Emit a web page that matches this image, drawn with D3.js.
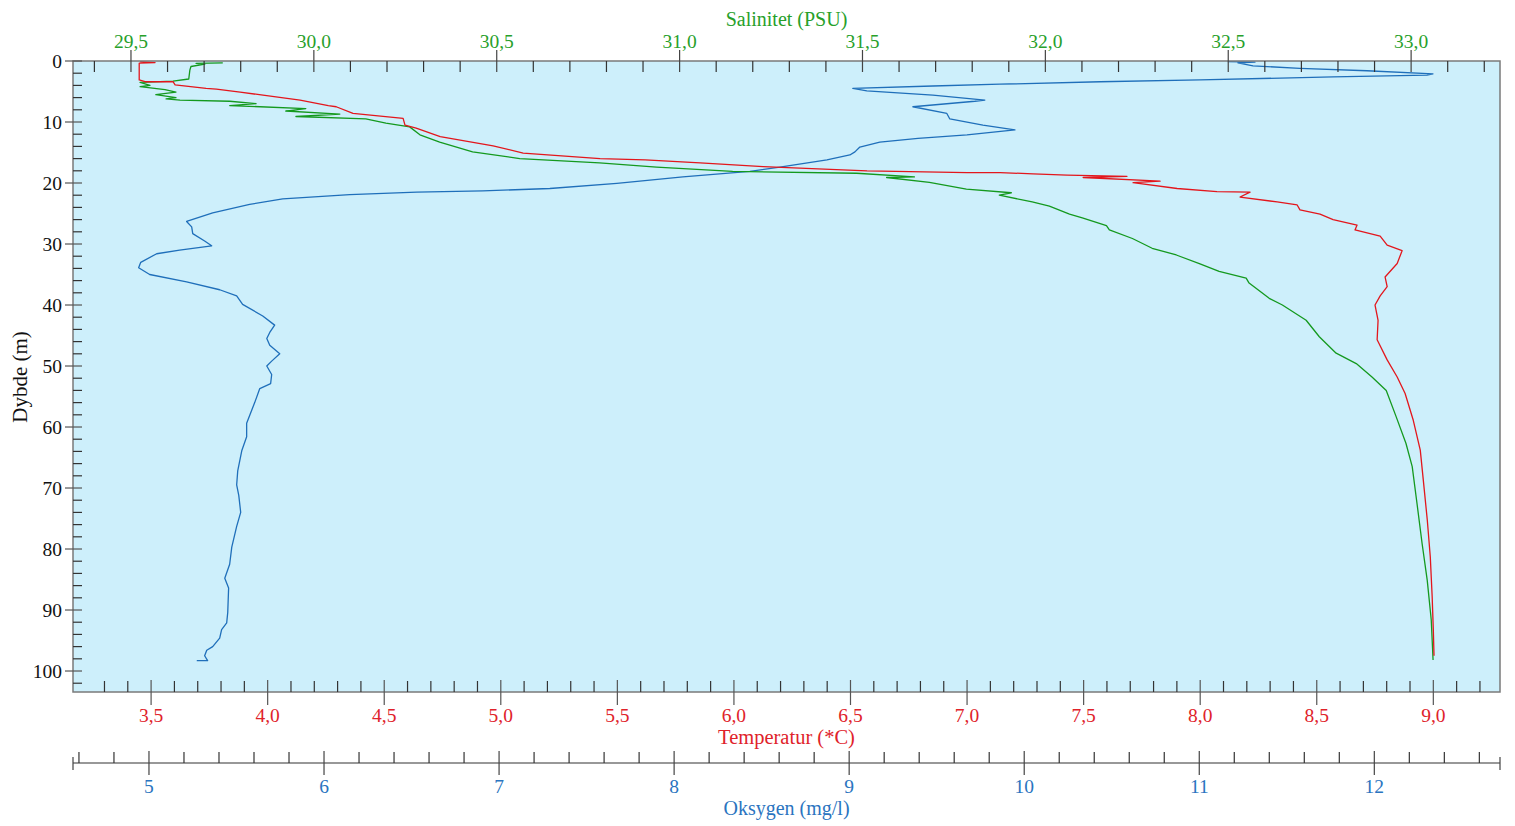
<!DOCTYPE html>
<html>
<head>
<meta charset="utf-8">
<script src="https://cdn.jsdelivr.net/npm/d3@7"></script>
<style>
  body { margin: 0; background: #fff; }
  svg text { font-family: "Liberation Serif", "Times New Roman", serif; }
</style>
</head>
<body>
<div class="chart"></div>
<script>
// ** data: [dybde (m), verdi] */
const temperatur = [
  [0.1, 3.453], [0.25, 3.517], [0.35, 3.449], [3.1, 3.449], [3.4, 3.474], [3.4, 3.594],
  [3.9, 3.603], [4.5, 3.736], [4.6, 3.78], [5.1, 3.882], [5.6, 3.980], [6.4, 4.139],
  [7.3, 4.26], [7.5, 4.294], [8.6, 4.366], [9.4, 4.581], [10.5, 4.589], [11, 4.637],
  [12.4, 4.740], [13.9, 4.967], [15.1, 5.096], [16, 5.426], [16.2, 5.619], [16.7, 5.855],
  [17.3, 6.125], [18, 6.571], [18.3, 7.0], [18.3, 7.142], [18.5, 7.283], [18.7, 7.429],
  [18.9, 7.686], [19.1, 7.498], [19.7, 7.828], [19.95, 7.712], [20.9, 7.901], [21.4, 8.072],
  [21.5, 8.214], [22.3, 8.171], [23.1, 8.330], [23.6, 8.416], [24.4, 8.428], [25.1, 8.514],
  [26, 8.570], [26.9, 8.673], [27.7, 8.664], [28.7, 8.772], [30.2, 8.802], [31.1, 8.866],
  [33.2, 8.845], [35.4, 8.793], [37, 8.802], [38.5, 8.772], [40, 8.750], [42.5, 8.763],
  [45.7, 8.759], [49, 8.802], [51.8, 8.845], [54.5, 8.879], [58.9, 8.914], [63.8, 8.944],
  [68.7, 8.957], [75.2, 8.974], [81.3, 8.987], [87.8, 8.995], [93.3, 9.0], [97.5, 9.003]
];

const salinitet = [
  [0.3, 29.751], [0.4, 29.678], [0.5, 29.702], [0.9, 29.664], [1.5, 29.661], [2.95, 29.658],
  [3.3, 29.615], [3.5, 29.525], [4.0, 29.552], [4.2, 29.525], [4.7, 29.593], [5.1, 29.623],
  [5.5, 29.568], [6.0, 29.623], [6.2, 29.596], [6.4, 29.634], [6.6, 29.770], [7.0, 29.842],
  [7.3, 29.770], [7.8, 29.978], [8.2, 29.923], [8.7, 30.071], [9.1, 29.951], [9.5, 30.142],
  [10.2, 30.197], [10.8, 30.262], [12.1, 30.290], [13.3, 30.344], [14.9, 30.434], [16, 30.563],
  [16.7, 30.781], [17.4, 30.937], [18.1, 31.145], [18.4, 31.484], [19.0, 31.642], [19.1, 31.566],
  [19.9, 31.683], [21, 31.784], [21.6, 31.907], [22.0, 31.874], [23.1, 31.964], [23.8, 32.011],
  [25.1, 32.066], [25.7, 32.101], [27, 32.167], [27.7, 32.175], [29.1, 32.238], [30.7, 32.292],
  [31.8, 32.358], [33.2, 32.421], [34.5, 32.475], [35.6, 32.549], [36.4, 32.557], [38.9, 32.612],
  [40, 32.648], [42.5, 32.713], [45.2, 32.749], [47.9, 32.795], [49.6, 32.850], [51.8, 32.893],
  [54, 32.932], [58.3, 32.959], [62.7, 32.986], [66.5, 33.003], [72.5, 33.016], [79.1, 33.030],
  [85.1, 33.044], [91.6, 33.055], [98.2, 33.060]
];

const oksygen = [
  [0.1, 11.163], [0.2, 11.318], [0.3, 11.221], [0.8, 11.307], [1.2, 11.575], [1.6, 11.958],
  [2.1, 12.335], [2.3, 12.301], [2.6, 11.764], [3.1, 11.004], [3.4, 10.433], [3.8, 9.861],
  [4.1, 9.478], [4.5, 9.021], [4.9, 9.101], [5.6, 9.478], [6.4, 9.775], [6.6, 9.718],
  [7.5, 9.364], [8.6, 9.558], [9.5, 9.575], [10.5, 9.764], [11.3, 9.947], [12.1, 9.673],
  [12.7, 9.393], [13.3, 9.175], [14.1, 9.061], [14.9, 9.033], [15.4, 9.004], [16.2, 8.873],
  [17.4, 8.604], [18.1, 8.433], [19, 8.050], [20.05, 7.673], [20.9, 7.290], [21.3, 6.907],
  [21.5, 6.530], [21.9, 6.147], [22.6, 5.764], [23.5, 5.575], [24.9, 5.364], [26.3, 5.215],
  [27.2, 5.244], [28.3, 5.250], [29.5, 5.318], [30.3, 5.358], [31.0, 5.175], [31.6, 5.044],
  [33, 4.953], [33.9, 4.941], [35, 5.004], [36.2, 5.215], [37.5, 5.404], [38.5, 5.501],
  [39.9, 5.535], [41.8, 5.650], [43.3, 5.718], [44.5, 5.690], [45.5, 5.673], [46.6, 5.690],
  [48.0, 5.747], [49.2, 5.701], [50.0, 5.673], [51.4, 5.701], [52.9, 5.695], [53.7, 5.633],
  [56.0, 5.604], [59.4, 5.558], [61.6, 5.558], [63.9, 5.530], [67.2, 5.507], [69.5, 5.501],
  [71.2, 5.513], [74.0, 5.524], [76.3, 5.501], [79.7, 5.473], [82.5, 5.461], [84.8, 5.433],
  [86.4, 5.455], [90.4, 5.450], [92.1, 5.444], [93.2, 5.415], [94.6, 5.404], [96.0, 5.364],
  [96.6, 5.330], [97.5, 5.318], [98.3, 5.335], [98.3, 5.273]
];

const depthTicks = d3.range(0, 101, 10);
const salTicks = [29.5, 30.0, 30.5, 31.0, 31.5, 32.0, 32.5, 33.0];
const tempTicks = [3.5, 4.0, 4.5, 5.0, 5.5, 6.0, 6.5, 7.0, 7.5, 8.0, 8.5, 9.0];
const oxyTicks = [5, 6, 7, 8, 9, 10, 11, 12];

const GREEN = "#14991e", RED = "#e3161c", BLUE = "#1f6fba";
const GREEN_T = "#27a02a", RED_T = "#e0222a", BLUE_T = "#2a74c0";

//** d3 */
var svg = d3.select(".chart")
            .append("svg")
            .attr("width", 1515)
            .attr("height", 826);

const pLeft = 73, pRight = 1500, pTop = 61, pBottom = 692, oxyY = 763;

var y = d3.scaleLinear().domain([0, 103.44]).range([pTop, pBottom]);
var xS = d3.scaleLinear().domain([29.3415, 33.243]).range([pLeft, pRight]);
var xT = d3.scaleLinear().domain([3.165, 9.286]).range([pLeft, pRight]);
var xO = d3.scaleLinear().domain([4.566, 12.718]).range([pLeft, pRight]);

const comma = v => d3.format(".1f")(v).replace(".", ",");

// plot background
svg.append("rect")
   .attr("x", pLeft).attr("y", pTop)
   .attr("width", pRight - pLeft).attr("height", pBottom - pTop)
   .attr("fill", "#cdeffb");

// curves
const drawCurve = (data, xs, color) => {
  svg.append("path")
     .datum(data)
     .attr("fill", "none")
     .attr("stroke", color)
     .attr("stroke-width", 1.3)
     .attr("stroke-linejoin", "round")
     .attr("d", d3.line().x(d => xs(d[1])).y(d => y(d[0])));
};
drawCurve(oksygen, xO, BLUE);
drawCurve(salinitet, xS, GREEN);
drawCurve(temperatur, xT, RED);

// frame
svg.append("rect")
   .attr("x", pLeft).attr("y", pTop)
   .attr("width", pRight - pLeft).attr("height", pBottom - pTop)
   .attr("fill", "none").attr("stroke", "#7a7a7a").attr("stroke-width", 1.5);

const tick = (x1, y1, x2, y2, color) => {
  svg.append("line")
     .attr("x1", x1).attr("y1", y1).attr("x2", x2).attr("y2", y2)
     .attr("stroke", color || "#333").attr("stroke-width", 1.2);
};

//** left axis: depth */
d3.range(0, 104, 2).forEach(d => {
  if (d % 10 === 0) tick(pLeft - 8, y(d), pLeft + 9, y(d), "#555");
  else tick(pLeft, y(d), pLeft + 9, y(d), "#333");
});
svg.selectAll(".ylab").data(depthTicks).join("text")
   .attr("x", pLeft - 11).attr("y", d => y(d))
   .attr("text-anchor", "end").attr("dominant-baseline", "central")
   .attr("font-size", 19.5).attr("fill", "#111")
   .text(d => d);
svg.append("text")
   .attr("transform", "translate(20," + y(51.8) + ") rotate(-90)")
   .attr("text-anchor", "middle").attr("dominant-baseline", "central")
   .attr("font-size", 21).attr("fill", "#111")
   .text("Dybde (m)");

//** top axis: salinity */
d3.range(29.4, 33.25, 0.1).forEach(v => {
  const major = Math.abs(v * 2 - Math.round(v * 2)) < 1e-6;
  if (major) tick(xS(v), pTop - 11, xS(v), pTop + 11, "#444");
  else tick(xS(v), pTop, xS(v), pTop + 11, "#333");
});
svg.selectAll(".slab").data(salTicks).join("text")
   .attr("x", d => xS(d)).attr("y", 48)
   .attr("text-anchor", "middle")
   .attr("font-size", 19.5).attr("fill", GREEN_T)
   .text(d => comma(d));
svg.append("text")
   .attr("x", (pLeft + pRight) / 2).attr("y", 26)
   .attr("text-anchor", "middle")
   .attr("font-size", 20).attr("fill", GREEN_T)
   .text("Salinitet (PSU)");

//** bottom axis: temperature */
d3.range(3.3, 9.29, 0.1).forEach(v => {
  const major = Math.abs(v * 2 - Math.round(v * 2)) < 1e-6;
  if (major) tick(xT(v), pBottom - 12, xT(v), pBottom + 13, "#555");
  else tick(xT(v), pBottom - 11, xT(v), pBottom, "#333");
});
svg.selectAll(".tlab").data(tempTicks).join("text")
   .attr("x", d => xT(d)).attr("y", 722)
   .attr("text-anchor", "middle")
   .attr("font-size", 19.5).attr("fill", RED_T)
   .text(d => comma(d));
svg.append("text")
   .attr("x", (pLeft + pRight) / 2).attr("y", 744)
   .attr("text-anchor", "middle")
   .attr("font-size", 20.5).attr("fill", RED_T)
   .text("Temperatur (*C)");

//** oxygen axis */
tick(pLeft, oxyY, pRight, oxyY, "#333");
tick(pLeft, oxyY - 6, pLeft, oxyY + 7, "#444");
tick(pRight, oxyY - 6, pRight, oxyY + 7, "#444");
d3.range(4.6, 12.71, 0.2).forEach(v => {
  const major = Math.abs(v - Math.round(v)) < 1e-6;
  if (major) tick(xO(v), oxyY - 12, xO(v), oxyY + 12, "#444");
  else tick(xO(v), oxyY - 11, xO(v), oxyY, "#333");
});
svg.selectAll(".olab").data(oxyTicks).join("text")
   .attr("x", d => xO(d)).attr("y", 793)
   .attr("text-anchor", "middle")
   .attr("font-size", 19.5).attr("fill", BLUE_T)
   .text(d => d);
svg.append("text")
   .attr("x", (pLeft + pRight) / 2).attr("y", 815)
   .attr("text-anchor", "middle")
   .attr("font-size", 20).attr("fill", BLUE_T)
   .text("Oksygen (mg/l)");
</script>
</body>
</html>
